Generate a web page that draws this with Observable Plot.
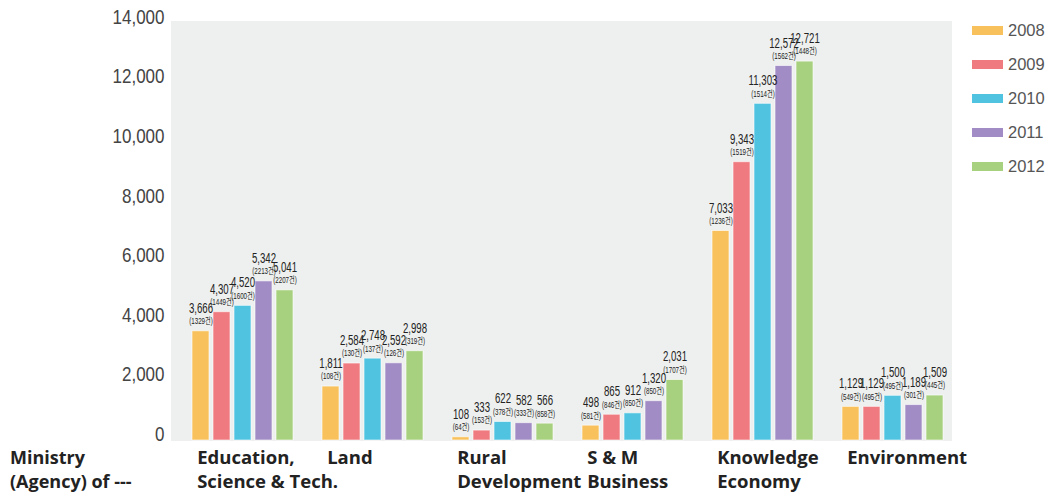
<!DOCTYPE html>
<html>
<head>
<meta charset="utf-8">
<script src="https://cdn.jsdelivr.net/npm/d3@7"></script>
<script src="https://cdn.jsdelivr.net/npm/@observablehq/plot@0.6"></script>
<style>
  body { margin: 0; background: #fff; }
  #wrap { position: relative; width: 1046px; height: 493px; }
  #legend { position: absolute; left: 972px; top: 0; font-family: "Liberation Sans", Arial, sans-serif; font-size: 16.5px; color: #555; }
  #legend .row { position: absolute; left: 0; height: 20px; display: flex; align-items: center; white-space: nowrap; }
  #legend .sw { width: 31px; height: 9px; margin-right: 5px; }
  #ministry { position: absolute; left: 10px; top: 445px; font-family: "Open Sans", "Noto Sans", sans-serif; font-weight: 700; font-size: 18px; line-height: 24px; color: #222; white-space: pre; }
</style>
</head>
<body>
<div id="wrap">
  <div id="ministry">Ministry
(Agency) of ---</div>
  <div id="legend"></div>
</div>
<script>
const categories = ["Education,\nScience & Tech.", "Land", "Rural\nDevelopment", "S & M\nBusiness", "Knowledge\nEconomy", "Environment"];
const years = ["2008", "2009", "2010", "2011", "2012"];
const colors = ["#f8c15c", "#ef7a7f", "#4fc3e0", "#a18cc5", "#a8d17f"];

const values2008 = [3666, 1811, 108, 498, 7033, 1129];
const values2009 = [4307, 2584, 333, 865, 9343, 1129];
const values2010 = [4520, 2748, 622, 912, 11303, 1500];
const values2011 = [5342, 2592, 582, 1320, 12572, 1189];
const values2012 = [5041, 2998, 566, 2031, 12721, 1509];

const counts2008 = [1329, 108, 64, 581, 1236, 549];
const counts2009 = [1449, 130, 153, 846, 1519, 495];
const counts2010 = [1600, 137, 378, 850, 1514, 495];
const counts2011 = [2213, 126, 333, 850, 1562, 301];
const counts2012 = [2207, 319, 858, 1707, 1448, 445];

const yTicks = [0, 2000, 4000, 6000, 8000, 10000, 12000, 14000];

const valueSeries = [values2008, values2009, values2010, values2011, values2012];
const countSeries = [counts2008, counts2009, counts2010, counts2011, counts2012];

const data = [];
categories.forEach((c, i) => {
  years.forEach((y, j) => {
    data.push({category: c, year: y, value: valueSeries[j][i], count: countSeries[j][i]});
  });
});

const fmt = d3.format(",");
const W = 1046, mL = 169, mR = 93;
const band = (W - mL - mR) / categories.length;

const chart = Plot.plot({
  width: W,
  height: 493,
  marginLeft: mL,
  marginRight: mR,
  marginTop: 23,
  marginBottom: 53,
  fx: {domain: categories, padding: 0, label: null},
  x: {domain: years, paddingInner: 0.17, paddingOuter: 0.59, align: 0.74, axis: null},
  y: {domain: [0, 14000], label: null},
  color: {domain: years, range: colors},
  marks: [
    Plot.frame({fill: "#eef0ef", stroke: "#eef0ef", insetTop: -2}),
    Plot.barY(data, {fx: "category", x: "year", y: "value", fill: "year", stroke: "white", strokeWidth: 1, strokeOpacity: 0.6}),
    Plot.text(data, {fx: "category", x: "year", y: "value", text: d => `(${d.count}건)`, dy: -10,
      fontSize: 9, fontFamily: "'Liberation Sans', 'Noto Sans CJK KR', sans-serif", fill: "#222"}),
    Plot.text(data, {fx: "category", x: "year", y: "value", text: d => fmt(d.value), dy: -23,
      fontSize: 14, fontFamily: "'Liberation Sans', sans-serif", fill: "#222"}),
    Plot.axisY({ticks: yTicks, tickSize: 0, tickPadding: 7, tickFormat: fmt, dy: -6, label: null,
      fontSize: 20, fontFamily: "'Liberation Sans', sans-serif", fill: "#444"}),
    Plot.axisFx({anchor: "bottom", tickSize: 0, tickPadding: 6, textAnchor: "start", dx: -band / 2 + 26,
      lineHeight: 1.3, label: null, fontSize: 18.5, fontWeight: 700,
      fontFamily: "'Open Sans', 'Noto Sans', sans-serif", fill: "#222"})
  ]
});
document.getElementById("wrap").prepend(chart);

// condense the labels (the reference uses a condensed face)
chart.querySelectorAll('g[aria-label="text"] text').forEach(t => {
  t.setAttribute("transform", (t.getAttribute("transform") || "") + " scale(0.69,1)");
});
chart.querySelectorAll('g[aria-label="y-axis tick label"] text').forEach(t => {
  t.setAttribute("transform", (t.getAttribute("transform") || "") + " scale(0.85,1)");
});

const legend = document.getElementById("legend");
years.forEach((y, i) => {
  const row = document.createElement("div");
  row.className = "row";
  row.style.top = (20 + i * 34) + "px";
  const sw = document.createElement("span");
  sw.className = "sw";
  sw.style.background = colors[i];
  const lab = document.createElement("span");
  lab.textContent = y;
  row.appendChild(sw);
  row.appendChild(lab);
  legend.appendChild(row);
});
</script>
</body>
</html>
